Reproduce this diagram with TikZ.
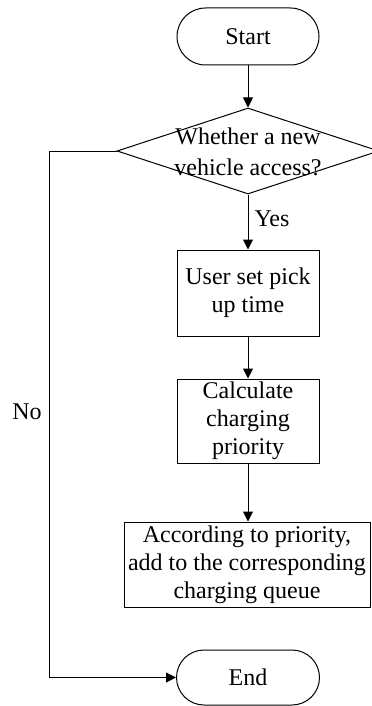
\documentclass[tikz,border=0pt]{standalone}
\usepackage{fontspec}
\setmainfont{Liberation Serif}
\usetikzlibrary{shapes.geometric,shapes.misc,arrows.meta}
\begin{document}
\begin{tikzpicture}[x=0.5pt,y=-0.5pt,
  every node/.style={font=\fontsize{12}{14}\selectfont},
  term/.style={draw, rounded rectangle, line width=0.5pt, minimum width=71pt, minimum height=28.5pt, inner sep=0pt},
  procbox/.style={draw, rectangle, line width=0.5pt, minimum width=71pt, align=center, inner sep=0pt},
  decision/.style={draw, diamond, line width=0.5pt, minimum width=131pt, minimum height=43pt, inner sep=0pt},
  txt/.style={align=center, inner sep=0pt},
  conn/.style={line width=0.5pt, -{Triangle[length=5pt,width=5pt]}}]
\useasboundingbox (0,0) rectangle (371,706);
\node[term] (start) at (248,36.5) {Start};
\node[decision] (dia) at (248,151) {};
\node[txt, font=\fontsize{12}{15.5}\selectfont] (diatext) at (248,151.5) {Whether a new\\vehicle access?};
\node[procbox, minimum height=43pt] (b1) at (248,293) {User set pick\\up time};
\node[procbox, minimum height=42pt] (b2) at (248,421) {Calculate\\charging\\priority};
\node[procbox, minimum width=123pt, minimum height=42.5pt] (b3) at (247,564.5) {According to priority,\\add to the corresponding\\charging queue};
\node[term, minimum height=27.5pt, minimum width=71.5pt] (end) at (248,677.5) {End};
\coordinate (nocorner) at (49,151);
\node[inner sep=0pt] (nolabel) at (27,412) {No};
\draw[conn] (start.south) -- (dia.north);
\draw[conn] (dia.south) -- node[pos=0.45, right, inner sep=3pt] (yeslabel) {Yes} (b1.north);
\draw[conn] (b1.south) -- (b2.north);
\draw[conn] (b2.south) -- (b2.south |- b3.north);
\draw[conn] (dia.west) -- (nocorner) |- (end.west);
\end{tikzpicture}
\end{document}
